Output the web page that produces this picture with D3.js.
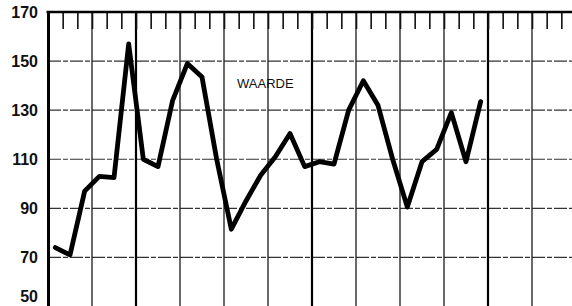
<!DOCTYPE html>
<html>
<head>
<meta charset="utf-8">
<script src="https://cdn.jsdelivr.net/npm/d3@7"></script>
<style>
  body { margin: 0; background: #fff; }
  svg { display: block; }
  .ylab text { font-family: "Liberation Sans", Arial, sans-serif; font-weight: bold; font-size: 16px; fill: #111; }
</style>
</head>
<body>
<script>
// monthly values, first point is half a month right of the axis
var values = [74, 71, 97, 103, 102.5, 157, 110, 107, 134, 149, 143.5, 110, 81.5, 93, 103.5,
              111, 120.5, 107, 109, 108, 130, 142, 132, 110, 90.5, 109, 114, 129, 109, 133.5];
var yTicks = [50, 70, 90, 110, 130, 150, 170];
var gridMonths = [3, 9, 12, 15, 21, 24, 27, 33];   // thin verticals
var yearMonths = [6, 18, 30];                      // heavy verticals
var label = "WAARDE";

var width = 572, height = 306;

var x = d3.scaleLinear().domain([0, 36]).range([48, 576]);
var y = d3.scaleLinear().domain([50, 170]).range([306.5, 12]);

var svg = d3.select("body").append("svg")
    .attr("width", width)
    .attr("height", height);

// horizontal grid, broken print-like dashes
svg.append("g")
  .selectAll("line")
  .data(yTicks.filter(function(d) { return d > 50 && d < 170; }))
  .enter().append("line")
    .attr("x1", x(0)).attr("x2", width)
    .attr("y1", function(d) { return y(d); })
    .attr("y2", function(d) { return y(d); })
    .attr("stroke", "#333")
    .attr("stroke-width", 1.2)
    .attr("stroke-dasharray", "13,2,5,2");

// thin vertical grid
svg.append("g")
  .selectAll("line")
  .data(gridMonths)
  .enter().append("line")
    .attr("x1", function(d) { return x(d); })
    .attr("x2", function(d) { return x(d); })
    .attr("y1", y(170)).attr("y2", height)
    .attr("stroke", "#1a1a1a")
    .attr("stroke-width", 1.3);

// heavy vertical grid
svg.append("g")
  .selectAll("line")
  .data(yearMonths)
  .enter().append("line")
    .attr("x1", function(d) { return x(d); })
    .attr("x2", function(d) { return x(d); })
    .attr("y1", y(170)).attr("y2", height)
    .attr("stroke", "#000")
    .attr("stroke-width", 2.2);

// month ticks hanging from the top edge
var topAxis = svg.append("g")
    .attr("transform", "translate(0," + y(170) + ")")
    .call(d3.axisTop(x)
        .tickValues(d3.range(1, 36))
        .tickSizeInner(-17)
        .tickSizeOuter(0)
        .tickFormat(""));
topAxis.select(".domain").remove();
topAxis.selectAll(".tick line").attr("stroke", "#111").attr("stroke-width", 1.6);

// frame: top edge and left axis
svg.append("line")
    .attr("x1", x(0) - 1.5).attr("x2", width)
    .attr("y1", y(170)).attr("y2", y(170))
    .attr("stroke", "#000").attr("stroke-width", 2.6);

var leftAxis = svg.append("g")
    .attr("class", "ylab")
    .attr("transform", "translate(" + x(0) + ",0)")
    .call(d3.axisLeft(y)
        .tickValues(yTicks)
        .tickSize(0)
        .tickPadding(10));
leftAxis.select(".domain").attr("stroke", "#000").attr("stroke-width", 3);
// bottom label lifted so it stays inside the picture
leftAxis.selectAll(".tick")
    .filter(function(d) { return d === 50; })
    .select("text").attr("dy", "-0.3em");

// series
var line = d3.line()
    .x(function(d, i) { return x(i + 0.5); })
    .y(function(d) { return y(d); });

svg.append("path")
    .datum(values)
    .attr("d", line)
    .attr("fill", "none")
    .attr("stroke", "#000")
    .attr("stroke-width", 4.8)
    .attr("stroke-linejoin", "round")
    .attr("stroke-linecap", "round");

svg.append("text")
    .attr("x", 237)
    .attr("y", 88)
    .attr("font-family", "Liberation Sans, Arial, sans-serif")
    .attr("font-size", 13)
    .attr("fill", "#111")
    .text(label);
</script>
</body>
</html>
